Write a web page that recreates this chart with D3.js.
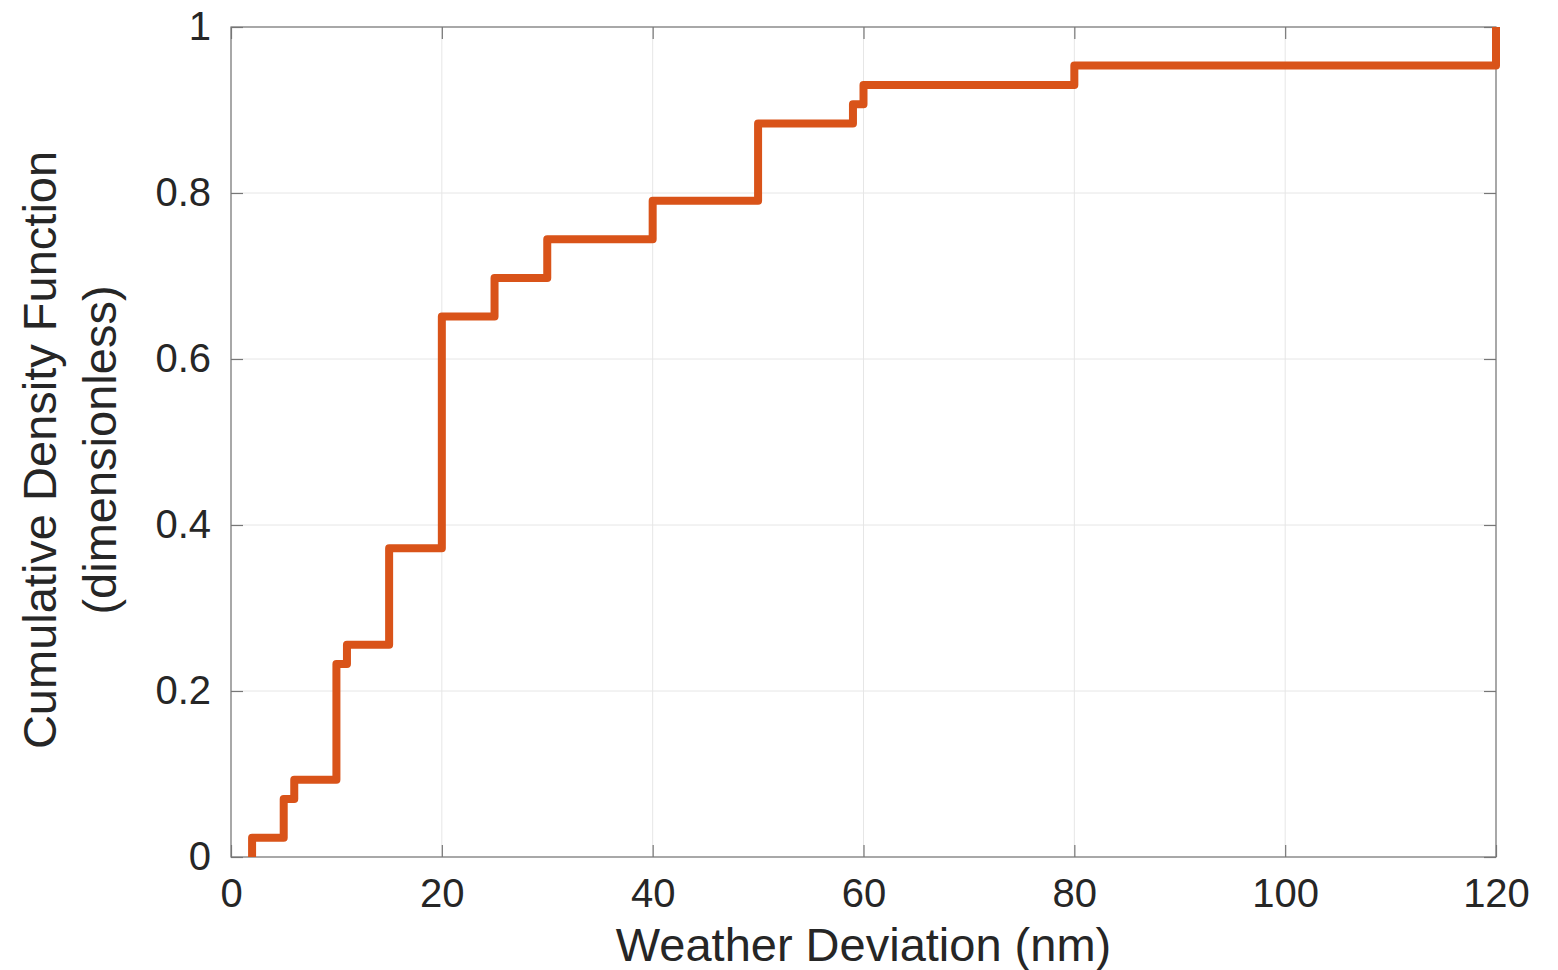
<!DOCTYPE html>
<html>
<head>
<style>
body { margin: 0; background: #fff; }
text { font-family: "Liberation Sans", Arial, Helvetica, sans-serif; fill: #262626; }
</style>
<script src="https://d3js.org/d3.v7.min.js"></script>
</head>
<body>
<svg id="chart" width="1558" height="970"></svg>
<script>
// empirical CDF, step points (deviation in nm, cumulative fraction)
var deviation = [2, 2, 5, 6, 10, 11, 15, 20, 25, 30, 40, 50, 59, 60, 80, 120];
var cdf = [0, 0.0233, 0.0698, 0.0930, 0.2326, 0.2558, 0.3721, 0.6512, 0.6977, 0.7442, 0.7907, 0.8837, 0.9070, 0.9302, 0.9535, 1];
var xTicks = [0, 20, 40, 60, 80, 100, 120];
var yTicks = [0, 0.2, 0.4, 0.6, 0.8, 1];

var pLeft = 231, pRight = 1496, pTop = 27, pBottom = 857;
var svg = d3.select("#chart");

var x = d3.scaleLinear().domain([0, 120]).range([pLeft, pRight]);
var y = d3.scaleLinear().domain([0, 1]).range([pBottom, pTop]);

// grid
svg.append("g").selectAll("line").data(xTicks).enter().append("line")
  .attr("x1", d => x(d)).attr("x2", d => x(d))
  .attr("y1", pTop).attr("y2", pBottom)
  .attr("stroke", "#e6e6e6").attr("stroke-width", 1);
svg.append("g").selectAll("line").data(yTicks).enter().append("line")
  .attr("y1", d => y(d)).attr("y2", d => y(d))
  .attr("x1", pLeft).attr("x2", pRight)
  .attr("stroke", "#e6e6e6").attr("stroke-width", 1);

// axes, ticks pointing in like matlab
function styleAxis(g) {
  g.select(".domain").remove();
  g.selectAll(".tick line").attr("stroke", "#777").attr("stroke-width", 1.2);
  g.selectAll(".tick text").style("font-size", "40px").attr("fill", "#262626");
}
var fmt = d3.format("~g");
svg.append("g").attr("transform", "translate(0," + pBottom + ")")
  .call(d3.axisBottom(x).tickValues(xTicks).tickFormat(fmt).tickSizeInner(-12).tickPadding(22))
  .call(styleAxis);
svg.append("g").attr("transform", "translate(" + pLeft + ",0)")
  .call(d3.axisLeft(y).tickValues(yTicks).tickFormat(fmt).tickSizeInner(-12).tickPadding(20))
  .call(styleAxis);
svg.append("g").attr("transform", "translate(0," + pTop + ")")
  .call(d3.axisTop(x).tickValues(xTicks).tickFormat("").tickSizeInner(-12))
  .call(styleAxis);
svg.append("g").attr("transform", "translate(" + pRight + ",0)")
  .call(d3.axisRight(y).tickValues(yTicks).tickFormat("").tickSizeInner(-12))
  .call(styleAxis);

svg.append("rect")
  .attr("x", pLeft).attr("y", pTop)
  .attr("width", pRight - pLeft).attr("height", pBottom - pTop)
  .attr("fill", "none").attr("stroke", "#777").attr("stroke-width", 1.2);

// the step line
var pts = deviation.map((d, i) => [d, cdf[i]]);
var line = d3.line().x(d => x(d[0])).y(d => y(d[1])).curve(d3.curveStepAfter);
svg.append("path").attr("d", line(pts))
  .attr("fill", "none").attr("stroke", "#D95319")
  .attr("stroke-width", 8).attr("stroke-linejoin", "round").attr("stroke-linecap", "butt");

// labels
svg.append("text").attr("x", (pLeft + pRight) / 2).attr("y", 961)
  .attr("text-anchor", "middle").style("font-size", "47px")
  .text("Weather Deviation (nm)");
var yl = svg.append("text").attr("transform", "translate(56,450) rotate(-90)")
  .attr("text-anchor", "middle").style("font-size", "47px");
yl.append("tspan").attr("x", 0).attr("dy", 0).text("Cumulative Density Function");
yl.append("tspan").attr("x", 0).attr("dy", 60).text("(dimensionless)");
</script>
</body>
</html>
